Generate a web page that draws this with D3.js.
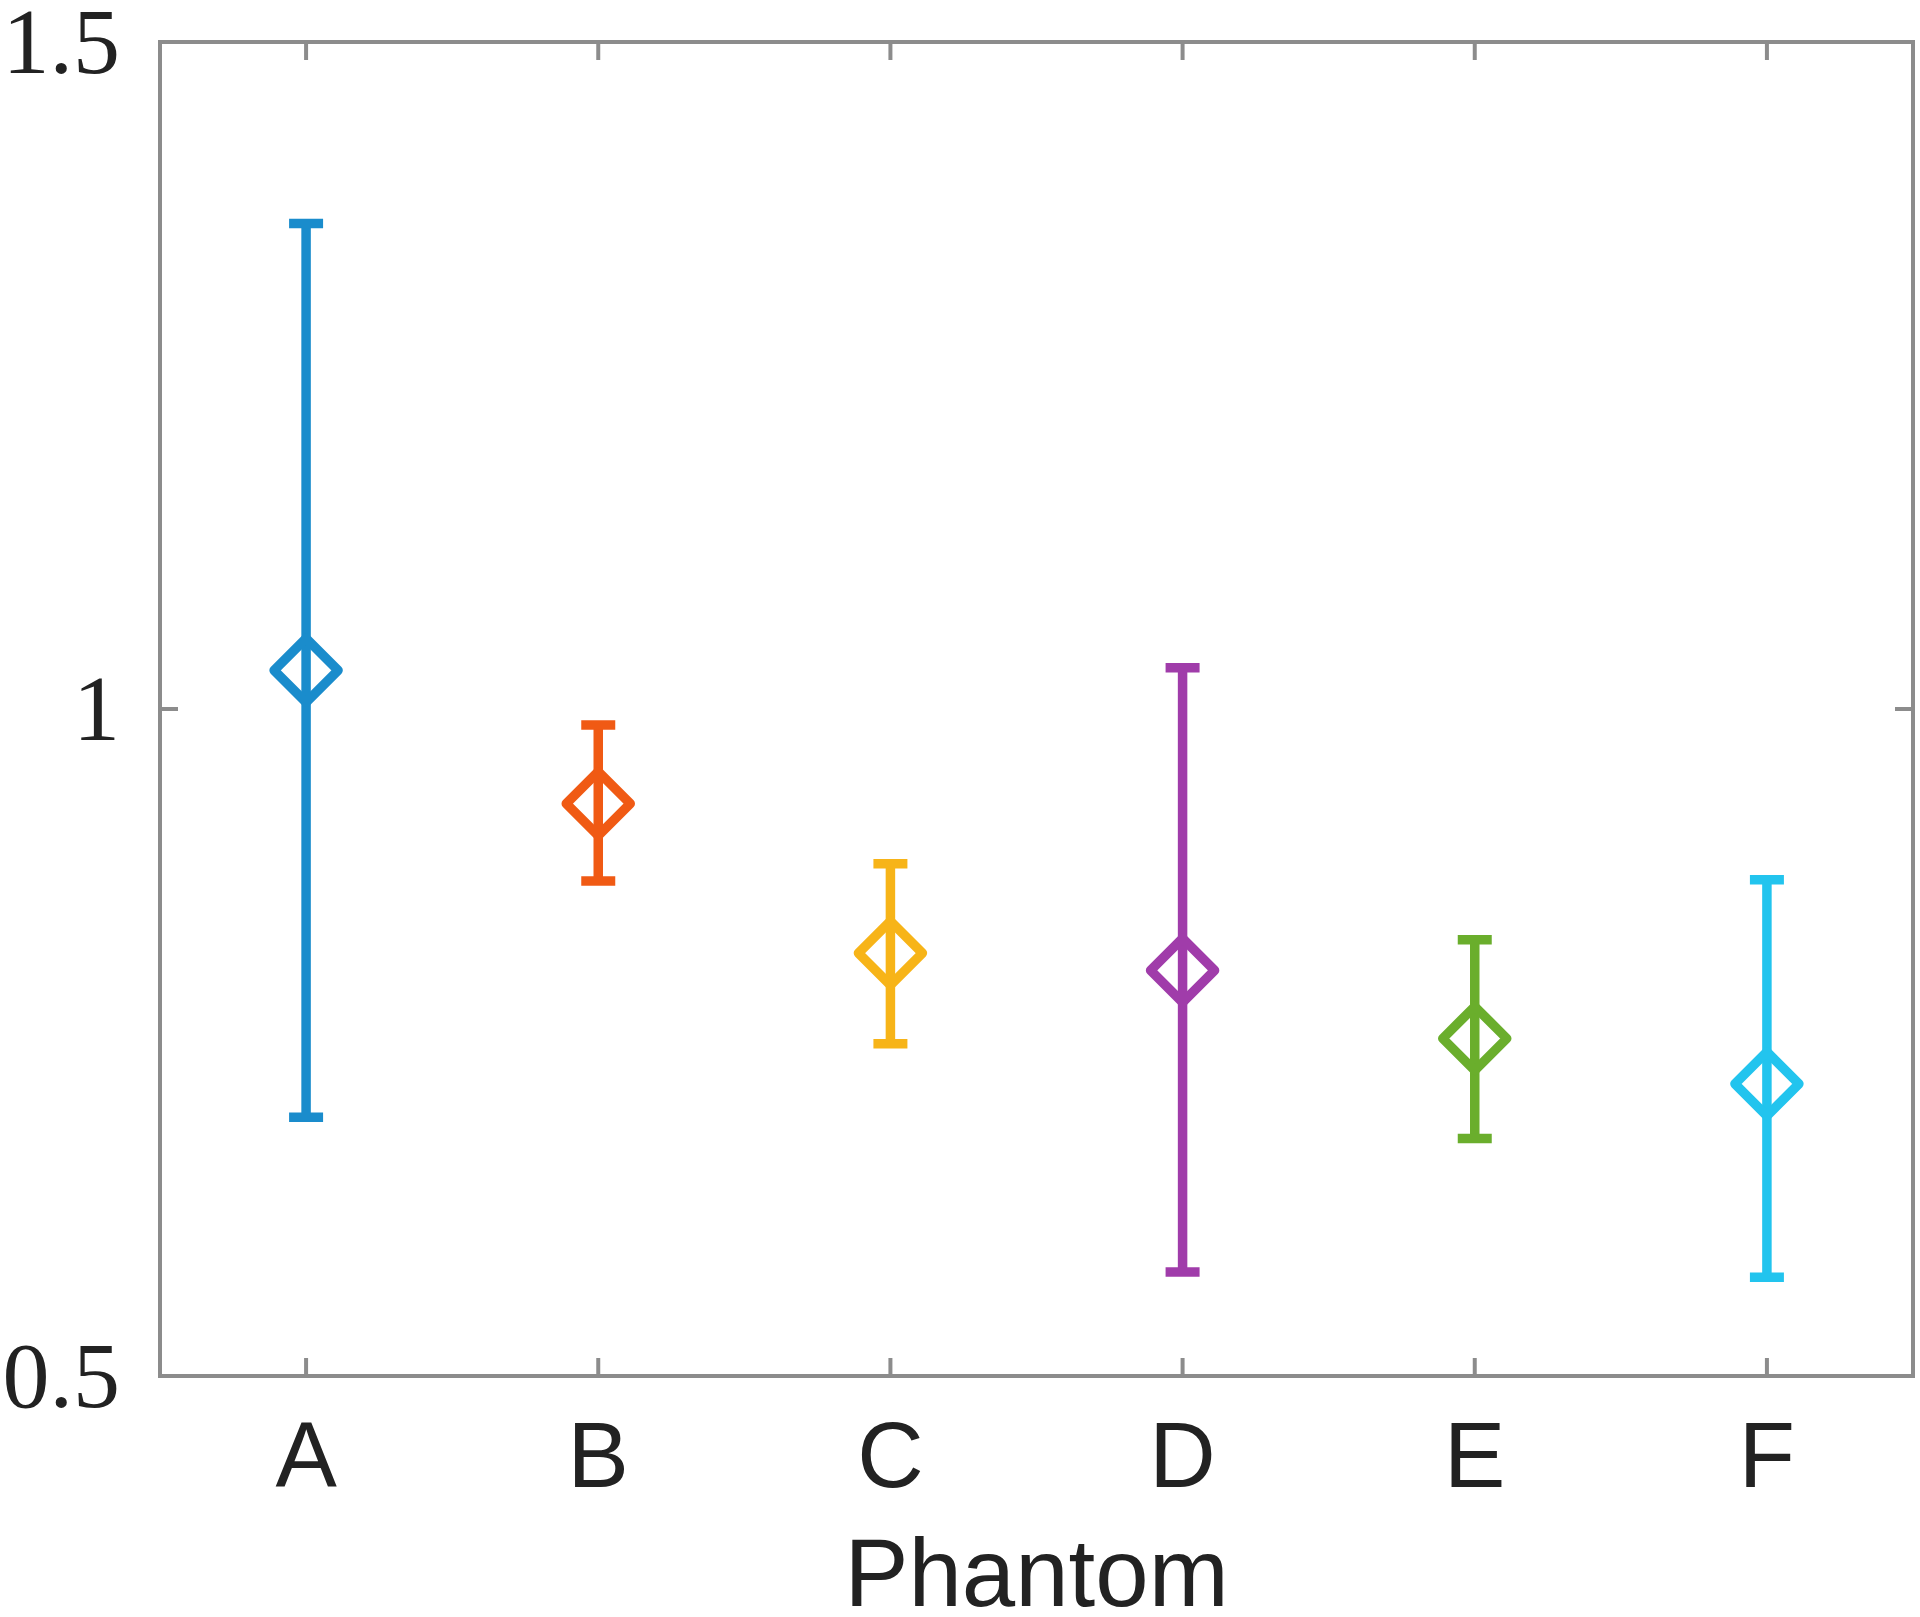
<!DOCTYPE html>
<html>
<head>
<meta charset="utf-8">
<script src="https://cdn.jsdelivr.net/npm/d3@7"></script>
<style>
html,body{margin:0;padding:0;background:#fff;}
svg{display:block;}
</style>
</head>
<body>
<svg id="chart" width="1920" height="1617"></svg>
<script>
const categories = ["A","B","C","D","E","F"];
const means  = [1.029, 0.929, 0.817, 0.804, 0.753, 0.719];
const upper  = [1.364, 0.988, 0.884, 1.031, 0.827, 0.872];
const lower  = [0.694, 0.871, 0.749, 0.578, 0.678, 0.574];
const colors = ["#1a8ccc", "#f05a14", "#f7b418", "#a03caa", "#6aae2c", "#22c4ee"];
const yTicks = [0.5, 1, 1.5];
const yTickLabels = ["0.5", "1", "1.5"];
const xLabel = "Phantom";

const svg = d3.select("#chart");
const L = 160, R = 1913, T = 42, B = 1376;
const x = d3.scaleLinear().domain([0.5, 6.5]).range([L, R]);
const y = d3.scaleLinear().domain([0.5, 1.5]).range([B, T]);
const axisColor = "#8c8c8c";
const tickLen = 18;

// frame
svg.append("rect").attr("x", L).attr("y", T).attr("width", R - L).attr("height", B - T)
  .attr("fill", "none").attr("stroke", axisColor).attr("stroke-width", 4);

// x ticks (bottom and top, inward)
const xt = categories.map((c, i) => i + 1);
svg.selectAll(".xtb").data(xt).enter().append("line")
  .attr("x1", d => x(d)).attr("x2", d => x(d)).attr("y1", B).attr("y2", B - tickLen)
  .attr("stroke", axisColor).attr("stroke-width", 4);
svg.selectAll(".xtt").data(xt).enter().append("line")
  .attr("x1", d => x(d)).attr("x2", d => x(d)).attr("y1", T).attr("y2", T + tickLen)
  .attr("stroke", axisColor).attr("stroke-width", 4);
// y ticks (left and right, inward)
svg.selectAll(".ytl").data(yTicks).enter().append("line")
  .attr("x1", L).attr("x2", L + tickLen).attr("y1", d => y(d)).attr("y2", d => y(d))
  .attr("stroke", axisColor).attr("stroke-width", 4);
svg.selectAll(".ytr").data(yTicks).enter().append("line")
  .attr("x1", R).attr("x2", R - tickLen).attr("y1", d => y(d)).attr("y2", d => y(d))
  .attr("stroke", axisColor).attr("stroke-width", 4);

// y labels
svg.selectAll(".yl").data(yTicks).enter().append("text")
  .attr("x", 120).attr("y", d => y(d) + 31)
  .attr("text-anchor", "end")
  .attr("font-family", "'Liberation Serif', 'Times New Roman', serif")
  .attr("font-size", 94).attr("fill", "#222")
  .text((d, i) => yTickLabels[i]);

// x labels
svg.selectAll(".xl").data(categories).enter().append("text")
  .attr("x", (d, i) => x(i + 1)).attr("y", 1487)
  .attr("text-anchor", "middle")
  .attr("font-family", "'Liberation Sans', Arial, sans-serif")
  .attr("font-size", 92).attr("fill", "#222")
  .text(d => d);

svg.append("text").attr("x", (L + R) / 2).attr("y", 1606)
  .attr("text-anchor", "middle")
  .attr("font-family", "'Liberation Sans', Arial, sans-serif")
  .attr("font-size", 96).attr("fill", "#222")
  .text(xLabel);

// error bars
const sw = 9.5, capW = 34, dHalf = 32;
const g = svg.selectAll(".eb").data(categories).enter().append("g");
g.append("line")
  .attr("x1", (d, i) => x(i + 1)).attr("x2", (d, i) => x(i + 1))
  .attr("y1", (d, i) => y(lower[i])).attr("y2", (d, i) => y(upper[i]))
  .attr("stroke", (d, i) => colors[i]).attr("stroke-width", sw);
g.append("line")
  .attr("x1", (d, i) => x(i + 1) - capW / 2).attr("x2", (d, i) => x(i + 1) + capW / 2)
  .attr("y1", (d, i) => y(upper[i])).attr("y2", (d, i) => y(upper[i]))
  .attr("stroke", (d, i) => colors[i]).attr("stroke-width", sw);
g.append("line")
  .attr("x1", (d, i) => x(i + 1) - capW / 2).attr("x2", (d, i) => x(i + 1) + capW / 2)
  .attr("y1", (d, i) => y(lower[i])).attr("y2", (d, i) => y(lower[i]))
  .attr("stroke", (d, i) => colors[i]).attr("stroke-width", sw);
g.append("path")
  .attr("d", (d, i) => {
    const cx = x(i + 1), cy = y(means[i]);
    return `M${cx},${cy - dHalf}L${cx + dHalf},${cy}L${cx},${cy + dHalf}L${cx - dHalf},${cy}Z`;
  })
  .attr("fill", "none").attr("stroke", (d, i) => colors[i]).attr("stroke-width", sw)
  .attr("stroke-linejoin", "round");
</script>
</body>
</html>
